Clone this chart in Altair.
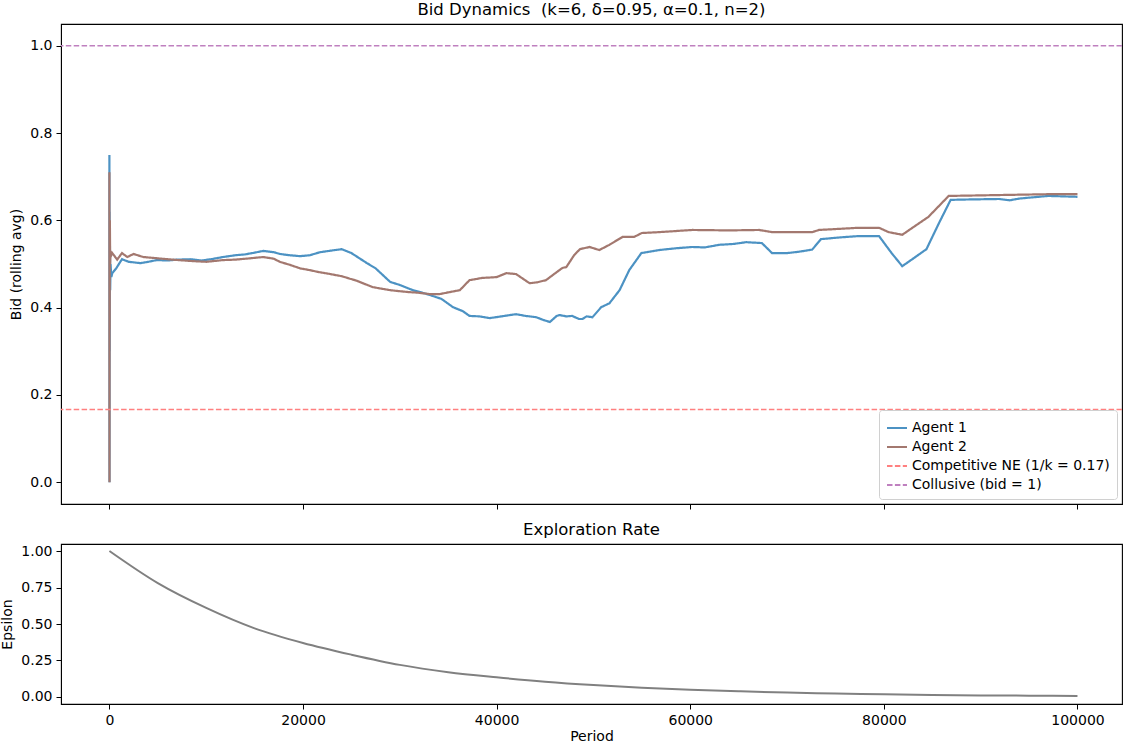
import altair as alt
import pandas as pd

FONT = "DejaVu Sans"

# Rolling-average bids, agent 1
agent1_period = [0, 10, 20, 30, 50, 80, 120, 200, 300, 700, 1300, 2000, 3200, 4000, 4900,
                 6000, 7000, 8350, 9500, 10500, 11750, 13000, 14000, 15000, 15900, 17000,
                 17600, 18650, 19700, 20700, 21750, 23000, 24000, 25000, 26600, 27500,
                 29000, 30000, 31350, 32200, 33100, 34300, 35500, 36500, 37200, 38200,
                 39300, 40500, 42000, 43000, 44100, 44800, 45500, 46200, 46500, 47200,
                 47800, 48500, 48870, 49300, 49900, 50800, 51650, 52700, 53700, 54950,
                 56800, 58500, 60200, 61500, 63000, 64500, 65770, 67400, 68450, 70000,
                 71200, 72600, 73500, 75500, 77400, 79500, 80800, 81900, 83000, 84400,
                 85700, 86900, 89000, 91900, 93000, 94000, 97000, 100000]
agent1_bid = [0.75, 0.0, 0.62, 0.30, 0.56, 0.44, 0.50, 0.47, 0.479, 0.49, 0.511, 0.505, 0.502,
              0.505, 0.509, 0.508, 0.510, 0.511, 0.508, 0.511, 0.516, 0.520, 0.522, 0.526,
              0.530, 0.527, 0.523, 0.520, 0.518, 0.520, 0.527, 0.531, 0.534, 0.525, 0.502,
              0.490, 0.459, 0.452, 0.440, 0.435, 0.429, 0.420, 0.401, 0.392, 0.381, 0.380,
              0.376, 0.380, 0.385, 0.381, 0.378, 0.372, 0.367, 0.381, 0.383, 0.380, 0.381,
              0.374, 0.374, 0.380, 0.378, 0.401, 0.410, 0.440, 0.486, 0.525, 0.532, 0.536,
              0.539, 0.538, 0.544, 0.546, 0.550, 0.548, 0.525, 0.525, 0.528, 0.533, 0.557,
              0.561, 0.564, 0.564, 0.525, 0.495, 0.512, 0.534, 0.594, 0.647, 0.648, 0.649,
              0.646, 0.650, 0.656, 0.654]

# Rolling-average bids, agent 2
agent2_period = [0, 10, 20, 30, 50, 80, 120, 200, 300, 800, 1300, 1850, 2500, 3500, 5000,
                 6500, 8350, 10000, 11750, 13000, 14500, 15900, 17000, 17600, 18650, 19700,
                 20700, 21500, 22800, 24000, 25500, 27200, 29000, 30700, 32000, 33100, 34100,
                 35000, 36200, 37200, 38500, 40000, 41000, 42000, 42800, 43400, 44200, 45100,
                 46000, 46800, 47200, 48000, 48600, 49600, 50600, 51650, 53000, 54200, 55000,
                 56800, 60200, 64000, 67100, 68450, 72600, 73300, 77400, 79500, 80500, 81900,
                 84600, 86700, 91900, 97000, 100000]
agent2_bid = [0.71, 0.0, 0.55, 0.35, 0.60, 0.50, 0.53, 0.52, 0.525, 0.510, 0.525, 0.516, 0.523,
              0.516, 0.513, 0.510, 0.507, 0.505, 0.509, 0.510, 0.513, 0.516, 0.512, 0.505,
              0.498, 0.490, 0.486, 0.482, 0.477, 0.472, 0.462, 0.447, 0.440, 0.436, 0.434,
              0.431, 0.431, 0.435, 0.440, 0.463, 0.468, 0.470, 0.479, 0.477, 0.465, 0.456,
              0.458, 0.463, 0.478, 0.491, 0.493, 0.520, 0.534, 0.539, 0.532, 0.544, 0.562,
              0.562, 0.571, 0.573, 0.578, 0.577, 0.578, 0.573, 0.573, 0.578, 0.583, 0.583,
              0.573, 0.567, 0.608, 0.656, 0.658, 0.660, 0.660]

# Exploration rate over time
eps_period = [0, 5000, 10000, 15000, 20000, 25000, 30000, 35000, 40000, 45000, 50000,
              55000, 60000, 65000, 70000, 75000, 80000, 85000, 90000, 95000, 100000]
eps_value = [1.00, 0.78, 0.61, 0.47, 0.37, 0.29, 0.22, 0.17, 0.135, 0.105, 0.082,
             0.064, 0.050, 0.039, 0.030, 0.024, 0.018, 0.014, 0.011, 0.009, 0.007]

k = 6
ne_level = 1 / k
collusive_level = 1.0

series_names = ["Agent 1", "Agent 2",
                f"Competitive NE (1/k = {ne_level:.2f})", "Collusive (bid = 1)"]
series_colors = ["#4c92c3", "#a3786f", "#ff8080", "#bf80bf"]
series_dashes = [[1, 0], [1, 0], [5.5, 2.4], [5.5, 2.4]]

x_ticks = [0, 20000, 40000, 60000, 80000, 100000]
x_domain = [-5000, 104600]

bids = pd.concat([
    pd.DataFrame({"period": agent1_period, "bid": agent1_bid, "series": series_names[0]}),
    pd.DataFrame({"period": agent2_period, "bid": agent2_bid, "series": series_names[1]}),
])
levels = pd.DataFrame({"bid": [ne_level, collusive_level], "series": series_names[2:]})
eps = pd.DataFrame({"period": eps_period, "epsilon": eps_value})

legend = alt.Legend(
    title=None, orient="bottom-right", offset=5,
    labelFont=FONT, labelFontSize=14, labelColor="black",
    symbolType="stroke", symbolSize=400, symbolStrokeWidth=1.8,
    rowPadding=1, padding=7, strokeColor="#d0d0d0", fillColor="white",
    cornerRadius=3, labelLimit=400,
)
color = alt.Color("series:N", scale=alt.Scale(domain=series_names, range=series_colors),
                  legend=legend)
dash = alt.StrokeDash("series:N", scale=alt.Scale(domain=series_names, range=series_dashes),
                      legend=legend)

x_top = alt.X("period:Q", scale=alt.Scale(domain=x_domain, nice=False, zero=False),
              axis=alt.Axis(values=x_ticks, labels=False, title=None))
y_bid = alt.Y("bid:Q", scale=alt.Scale(domain=[-0.05, 1.05], nice=False, zero=False),
              axis=alt.Axis(values=[0, 0.2, 0.4, 0.6, 0.8, 1.0], format=".1f",
                            title="Bid (rolling avg)"))

lines = alt.Chart(bids).mark_line(strokeWidth=2.2).encode(
    x=x_top, y=y_bid, color=color, strokeDash=dash, order=alt.Order("period:Q"))
rules = alt.Chart(levels).mark_rule(strokeWidth=1.5).encode(
    y=alt.Y("bid:Q"), color=color, strokeDash=dash)

top = alt.layer(lines, rules).properties(
    width=1061, height=480,
    title=alt.TitleParams("Bid Dynamics\u00a0 (k=6, δ=0.95, α=0.1, n=2)", fontSize=16.5,
                          font=FONT, fontWeight="normal", offset=6),
)

bottom = alt.Chart(eps).mark_line(color="#808080", strokeWidth=2,
                                  interpolate="monotone").encode(
    x=alt.X("period:Q", scale=alt.Scale(domain=x_domain, nice=False, zero=False),
            axis=alt.Axis(values=x_ticks, format="d", title="Period", titlePadding=2)),
    y=alt.Y("epsilon:Q", scale=alt.Scale(domain=[-0.048, 1.048], nice=False, zero=False),
            axis=alt.Axis(values=[0, 0.25, 0.5, 0.75, 1.0], format=".2f", title="Epsilon")),
).properties(
    width=1061, height=160,
    title=alt.TitleParams("Exploration Rate", fontSize=16.5, font=FONT,
                          fontWeight="normal", offset=6),
)

chart = alt.vconcat(top, bottom, spacing=9).resolve_legend(
    color="independent", strokeDash="independent"
).properties(
    padding={"left": 0, "top": 0, "right": 0, "bottom": 0},
).configure_view(
    stroke="black", strokeWidth=1.1,
).configure_axis(
    labelFont=FONT, labelFontSize=14, labelColor="black",
    titleFont=FONT, titleFontSize=14, titleFontWeight="normal", titleColor="black",
    domainColor="black", tickColor="black", tickSize=5, labelPadding=4,
    grid=False, titlePadding=6,
)

chart.save("out.html", embed_options={"renderer": "svg", "actions": False})
